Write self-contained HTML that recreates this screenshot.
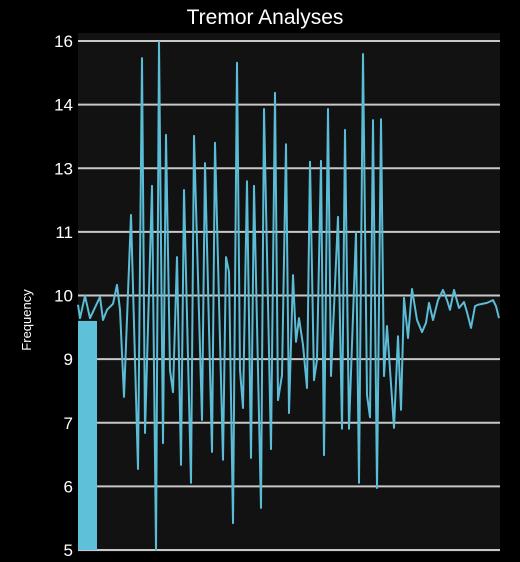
<!DOCTYPE html>
<html><head><meta charset="utf-8"><style>
html,body{margin:0;padding:0;background:#000;}
svg{display:block;font-family:"Liberation Sans",sans-serif;}
</style></head><body>
<svg id="chart" width="520" height="562">
<rect x="0" y="0" width="520" height="562" fill="#000"/>
<rect x="78" y="33" width="422" height="519" fill="#121212"/>
<text x="265" y="24" fill="#fff" font-size="21" text-anchor="middle">Tremor Analyses</text>
<text x="0" y="0" fill="#fff" font-size="13" text-anchor="middle" transform="translate(31,320) rotate(-90)">Frequency</text>
<g id="grid"></g><g id="bars"></g><g id="lines"></g><g id="ylabels"></g>
</svg>
<script>
const tickLabels = ["5","6","7","9","10","11","13","14","16"];
const sampleTimes = [0,2,7,12,22,25,29,35,39,42,46,53,60,64,67,74,78,81,85,88,92,95,99,103,106,113,116,124,127,134,137,145,148,151,155,159,162,165,169,173,176,183,186,193,197,200,204,208,211,215,218,221,225,229,232,236,239,243,246,250,253,260,264,267,271,278,281,285,289,292,295,299,303,306,309,316,320,323,326,330,334,339,344,348,351,355,360,365,369,372,376,381,386,389,393,397,400,409,415,418,421];
const frequencyValues = [10.30,10.01,10.49,10.01,10.47,9.97,10.19,10.32,10.73,10.19,8.31,12.24,6.75,15.63,7.53,12.87,5.00,15.98,7.31,13.97,8.89,8.41,11.33,6.84,12.78,6.45,13.95,7.81,13.36,7.12,13.80,6.95,11.33,11.01,5.58,15.53,8.89,8.07,12.97,6.99,12.87,5.91,14.53,7.18,14.88,8.24,8.78,13.77,7.96,10.94,9.50,10.01,9.43,8.50,13.39,8.67,9.11,13.41,7.05,14.53,8.76,12.20,7.62,14.08,7.62,11.87,6.45,15.72,8.35,7.87,14.29,6.34,14.31,8.76,9.84,7.64,9.62,8.03,10.45,9.58,10.64,9.97,9.71,9.91,10.34,9.97,10.40,10.62,10.40,10.19,10.62,10.23,10.36,10.14,9.80,10.27,10.30,10.34,10.40,10.27,10.01];
const barStart = [0];
const barEnd = [19];
const barValues = [9.95];

const X0=78,X1=500,Y0=550,Y1=41,VMIN=5,VMAX=16,TMAX=422;
const xs=t=>X0+(t/TMAX)*(X1-X0);
const ys=v=>Y0-(v-VMIN)/(VMAX-VMIN)*(Y0-Y1);
const NS="http://www.w3.org/2000/svg";
const grid=document.getElementById('grid'),yl=document.getElementById('ylabels');
tickLabels.forEach((lab,i)=>{
  const v=VMIN+i*(VMAX-VMIN)/(tickLabels.length-1);
  const y=ys(v);
  const l=document.createElementNS(NS,'line');
  l.setAttribute('x1',X0);l.setAttribute('x2',X1);l.setAttribute('y1',y);l.setAttribute('y2',y);
  l.setAttribute('stroke','#c8c8c8');l.setAttribute('stroke-width','2');
  
  
  grid.appendChild(l);
  const t=document.createElementNS(NS,'text');
  t.setAttribute('x',73);t.setAttribute('y',y+6);t.setAttribute('text-anchor','end');
  t.setAttribute('fill','#fff');t.setAttribute('font-size','17');t.textContent=lab;
  
  
  yl.appendChild(t);
});
const bars=document.getElementById('bars');
barValues.forEach((v,i)=>{
  const r=document.createElementNS(NS,'rect');
  r.setAttribute('x',xs(barStart[i]));r.setAttribute('width',xs(barEnd[i])-xs(barStart[i]));
  r.setAttribute('y',ys(v));r.setAttribute('height',ys(VMIN)-ys(v));r.setAttribute('fill','#5fc1d9');
  
  
  bars.appendChild(r);
});
const p=document.createElementNS(NS,'polyline');
p.setAttribute('points',frequencyValues.map((v,i)=>xs(sampleTimes[i])+','+ys(v)).join(' '));
p.setAttribute('fill','none');p.setAttribute('stroke','#5bbcd6');p.setAttribute('stroke-width','2');p.setAttribute('stroke-linejoin','round');


document.getElementById('lines').appendChild(p);
</script>
</body></html>
